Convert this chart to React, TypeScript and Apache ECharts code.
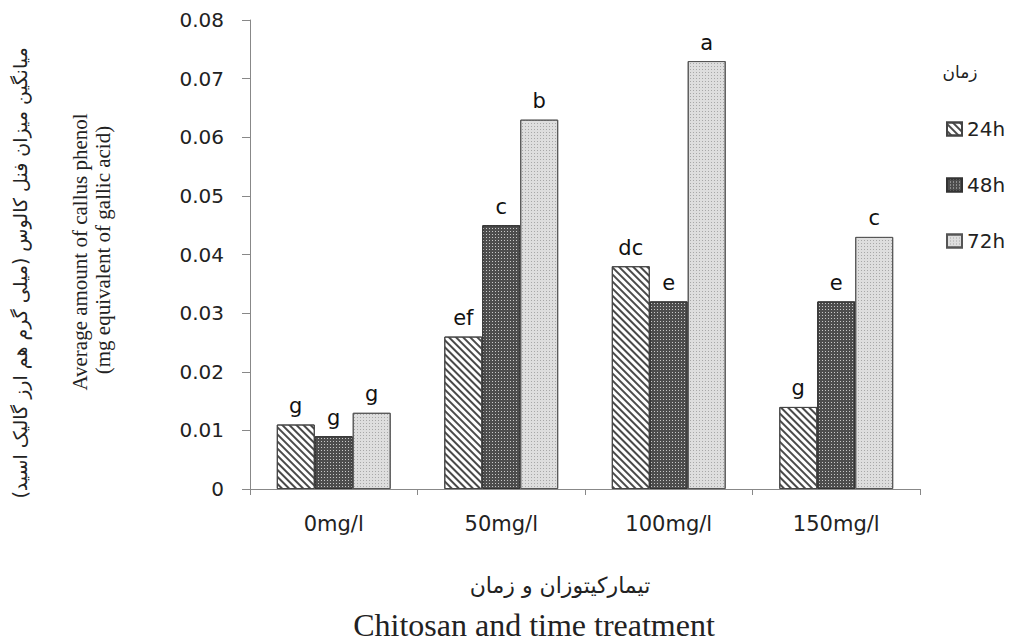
import React, { useEffect, useRef } from "react";
import * as echarts from "echarts";

const categories = ["0mg/l", "50mg/l", "100mg/l", "150mg/l"];
const seriesNames = ["24h", "48h", "72h"];
const values24 = [0.011, 0.026, 0.038, 0.014];
const values48 = [0.009, 0.045, 0.032, 0.032];
const values72 = [0.013, 0.063, 0.073, 0.043];
const letters24 = ["g", "ef", "dc", "g"];
const letters48 = ["g", "c", "e", "e"];
const letters72 = ["g", "b", "a", "c"];

export default function App() {
  const ref = useRef<HTMLDivElement>(null);
  useEffect(() => {
    if (!ref.current) return;
    const chart = echarts.init(ref.current, null, { renderer: "svg" });
    const sans = "'DejaVu Sans', 'Noto Sans', sans-serif";
    const serif = "'Liberation Serif', 'DejaVu Serif', serif";
    const styles = [
      {
        color: "#ffffff",
        borderColor: "#444",
        decal: { symbol: "rect", color: "#4a4a4a", dashArrayX: [1, 0], dashArrayY: [1.5, 2.5], rotation: Math.PI / 4, symbolSize: 1 },
      },
      {
        color: "#4d4d4d",
        borderColor: "#333",
        decal: { symbol: "rect", color: "#c8c8c8", dashArrayX: [[1, 2]], dashArrayY: [1, 2], symbolSize: 1 },
      },
      {
        color: "#dedede",
        borderColor: "#555",
        decal: { symbol: "rect", color: "#a8a8a8", dashArrayX: [[1, 2]], dashArrayY: [1, 2], symbolSize: 1 },
      },
    ];
    const vals = [values24, values48, values72];
    const lets = [letters24, letters48, letters72];
    chart.setOption({
      animation: false,
      aria: { enabled: false },
      grid: { left: 250, right: 89, top: 20, bottom: 153, containLabel: false },
      legend: {
        orient: "vertical",
        left: 941,
        top: 114,
        itemWidth: 15,
        itemHeight: 13,
        itemGap: 36,
        icon: "rect",
        textStyle: { fontFamily: sans, fontSize: 20, color: "#222" },
        data: seriesNames,
      },
      xAxis: {
        type: "category",
        data: categories,
        axisLine: { lineStyle: { color: "#888" } },
        axisTick: { show: true, alignWithLabel: false, length: 6, lineStyle: { color: "#888" } },
        axisLabel: { fontFamily: sans, fontSize: 21, color: "#222", margin: 24 },
      },
      yAxis: {
        type: "value",
        min: 0,
        max: 0.08,
        interval: 0.01,
        axisLine: { show: true, lineStyle: { color: "#888" } },
        axisTick: { show: true, length: 8, lineStyle: { color: "#888" } },
        splitLine: { show: false },
        axisLabel: {
          fontFamily: sans,
          fontSize: 20,
          color: "#222",
          margin: 26,
          formatter: (v: number) => (v === 0 ? "0" : v.toFixed(2)),
        },
      },
      series: seriesNames.map((name, i) => ({
        name,
        type: "bar",
        data: vals[i],
        barGap: "0%",
        barCategoryGap: "32%",
        itemStyle: { ...styles[i], borderWidth: 1 },
        label: {
          show: true,
          position: "top",
          distance: 8,
          fontFamily: sans,
          fontSize: 21,
          color: "#111",
          formatter: (p: any) => lets[i][p.dataIndex],
        },
      })),
      graphic: [
        {
          type: "text",
          x: 960,
          y: 72,
          style: { text: "زمان", fontFamily: sans, fontSize: 17, fill: "#222", align: "center", verticalAlign: "middle" },
        },
        {
          type: "text",
          x: 20,
          y: 273,
          rotation: Math.PI / 2,
          style: {
            text: "میانگین میزان فنل کالوس (میلی گرم هم ارز گالیک اسید)",
            fontFamily: sans,
            fontSize: 19,
            fill: "#222",
            align: "center",
            verticalAlign: "middle",
          },
        },
        {
          type: "text",
          x: 80,
          y: 252,
          rotation: Math.PI / 2,
          style: {
            text: "Average amount of callus phenol",
            fontFamily: serif,
            fontSize: 21,
            fill: "#222",
            align: "center",
            verticalAlign: "middle",
          },
        },
        {
          type: "text",
          x: 103,
          y: 250,
          rotation: Math.PI / 2,
          style: {
            text: "(mg equivalent of gallic acid)",
            fontFamily: serif,
            fontSize: 21,
            fill: "#222",
            align: "center",
            verticalAlign: "middle",
          },
        },
        {
          type: "text",
          x: 560,
          y: 585,
          style: {
            text: "تیمارکیتوزان و زمان",
            fontFamily: sans,
            fontSize: 22,
            fill: "#222",
            align: "center",
            verticalAlign: "middle",
          },
        },
        {
          type: "text",
          x: 534,
          y: 625,
          style: {
            text: "Chitosan and time treatment",
            fontFamily: serif,
            fontSize: 32,
            fill: "#222",
            align: "center",
            verticalAlign: "middle",
          },
        },
      ],
    });
    return () => chart.dispose();
  }, []);
  return <div ref={ref} style={{ width: 1009, height: 642, position: "absolute", left: 0, top: 0 }} />;
}
